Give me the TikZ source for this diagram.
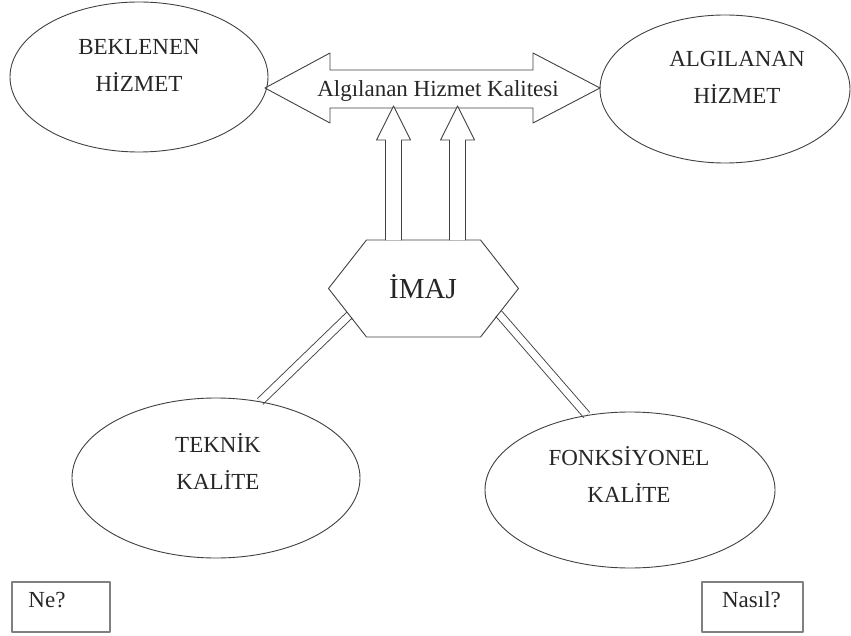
\documentclass[tikz,border=0pt]{standalone}
\usepackage{fontspec}
\setmainfont{Liberation Serif}
\usetikzlibrary{shapes.geometric,calc}
\pgfdeclarelayer{background}
\pgfsetlayers{background,main}

\tikzset{
  cizgi/.style={draw=black!75,line width=0.9pt},
  oval/.style={ellipse,cizgi,inner sep=0pt},
  yazi/.style={align=center,text=black!85,font=\fontsize{23}{37}\selectfont},
  ikili/.style={draw=black!75,line width=0.9pt,double=white,double distance=7pt,line cap=butt},
  kutu/.style={draw=black!50,line width=1.4pt,inner sep=0pt,minimum height=50pt}
}

\begin{document}
\begin{tikzpicture}[x=1pt,y=-1pt,line cap=round,line join=round]
\useasboundingbox (0,0) rectangle (851,636);
% hizmet ovalleri
\node[oval,minimum width=258pt,minimum height=150pt] (bek) at (139,77) {};
\node[oval,minimum width=250pt,minimum height=148pt] (alg) at (725,89) {};
\node[oval,minimum width=288pt,minimum height=160pt] (tek) at (216,478) {};
\node[oval,minimum width=290pt,minimum height=156pt] (fon) at (630,490) {};
\node[yazi] (bekY) at (139,65) {BEKLENEN\\HİZMET};
\node[yazi] (algY) at (737,77.5) {ALGILANAN\\HİZMET};
\node[yazi] (tekY) at (218,462) {TEKNİK\\KALİTE};
\node[yazi] (fonY) at (629,474.5) {FONKSİYONEL\\KALİTE};
% cift yonlu ok
\draw[cizgi] (265,88) -- (330,53) -- (330,70) -- (533,70) -- (533,53) -- (600,88)
  -- (533,123) -- (533,108) -- (330,108) -- (330,123) -- cycle;
\node[yazi] (kalite) at (438,91) {Algılanan Hizmet Kalitesi};
% imaj altigeni
\coordinate (h1) at (366.5,240);
\coordinate (h2) at (480.5,240);
\coordinate (h3) at (518.5,288.5);
\coordinate (h4) at (480.5,337);
\coordinate (h5) at (366.5,337);
\coordinate (h6) at (328.5,288.5);
\draw[cizgi] (h1) -- (h2) -- (h3) -- (h4) -- (h5) -- (h6) -- cycle;
\node[yazi,font=\fontsize{29}{34}\selectfont] (imaj) at (423,287) {İMAJ};
% imajdan kaliteye oklar
\foreach \ux in {393.5,457.5}
  \draw[cizgi,fill=white] (\ux-8,240) -- (\ux-8,140) -- (\ux-17,140) -- (\ux,106)
    -- (\ux+17,140) -- (\ux+8,140) -- (\ux+8,240);
% baglantilar
\begin{pgfonlayer}{background}
\draw[ikili] ($(h6)!0.55!(h5)$) -- (tek.60);
\draw[ikili] ($(h3)!0.52!(h4)$) -- (fon.120);
\end{pgfonlayer}
% soru kutulari
\node[kutu,minimum width=98pt] (neK) at (61,607) {};
\node[kutu,minimum width=101pt] (nasilK) at (752.5,607) {};
\node[yazi] (ne) at (47,600) {Ne?};
\node[yazi] (nasil) at (751.5,600) {Nasıl?};
\end{tikzpicture}
\end{document}
